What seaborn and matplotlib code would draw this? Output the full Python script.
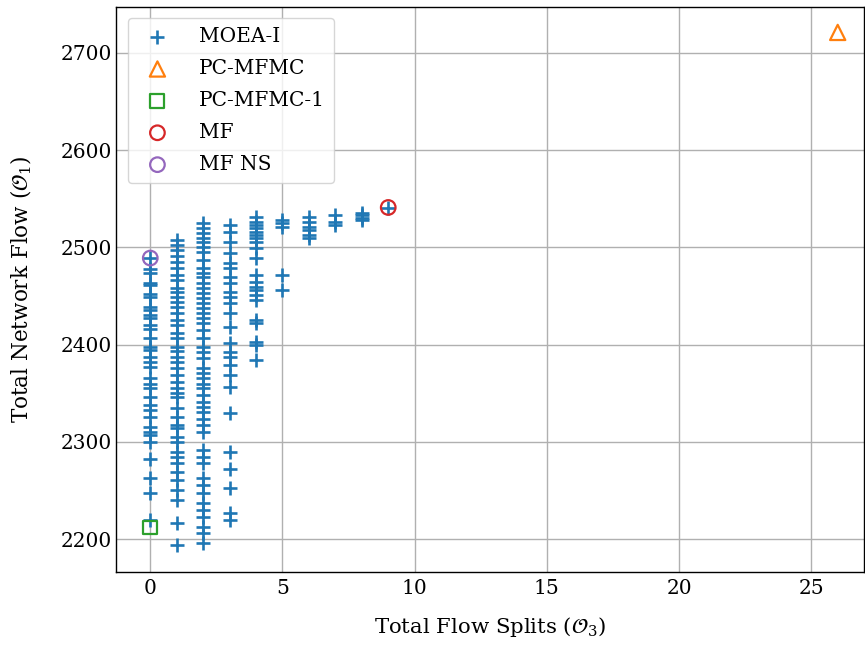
import matplotlib
matplotlib.use("Agg")
import matplotlib.pyplot as plt
import seaborn as sns
import numpy as np
import pandas as pd

# MOEA-I solutions: values per flow-split count
moea_x0 = [2478, 2474, 2463, 2461, 2452, 2449, 2439, 2436, 2430, 2427, 2420, 2416, 2407,
           2398, 2394, 2387, 2382, 2377, 2366, 2360, 2355, 2346, 2338, 2333, 2326, 2315,
           2310, 2307, 2300, 2282, 2263, 2247, 2220, 2489]
moea_x1 = [2508, 2502, 2497, 2491, 2485, 2479, 2472, 2466, 2458, 2454, 2449, 2444, 2439,
           2433, 2425, 2420, 2412, 2407, 2398, 2393, 2387, 2382, 2376, 2369, 2362, 2355,
           2350, 2346, 2335, 2326, 2317, 2314, 2305, 2300, 2290, 2284, 2278, 2269, 2261,
           2250, 2240, 2217, 2194]
moea_x2 = [2525, 2520, 2515, 2510, 2506, 2500, 2495, 2487, 2479, 2474, 2469, 2463, 2458,
           2453, 2448, 2443, 2438, 2433, 2427, 2422, 2415, 2407, 2398, 2392, 2386, 2376,
           2371, 2366, 2360, 2355, 2348, 2341, 2336, 2331, 2324, 2317, 2310, 2292, 2284,
           2278, 2263, 2256, 2247, 2237, 2230, 2223, 2212, 2206, 2196]
moea_x3 = [2523, 2516, 2505, 2494, 2484, 2479, 2469, 2463, 2454, 2449, 2443, 2433, 2418,
           2402, 2392, 2387, 2379, 2369, 2356, 2330, 2290, 2272, 2253, 2227, 2220]
moea_x4 = [2531, 2526, 2523, 2520, 2516, 2513, 2510, 2506, 2499, 2489, 2472, 2464, 2459,
           2456, 2451, 2446, 2425, 2422, 2403, 2400, 2384]
moea_x5 = [2528, 2525, 2521, 2472, 2456]
moea_x6 = [2531, 2526, 2521, 2518, 2513, 2510]
moea_x7 = [2533, 2526, 2523]
moea_x8 = [2535, 2533, 2530, 2528]
moea_x9 = [2540]
moea_cols = [moea_x0, moea_x1, moea_x2, moea_x3, moea_x4, moea_x5, moea_x6, moea_x7,
             moea_x8, moea_x9]

pcmfmc_x, pcmfmc_y = [26], [2721]
pcmfmc1_x, pcmfmc1_y = [0], [2212]
mf_x, mf_y = [9], [2541]
mfns_x, mfns_y = [0], [2489]

moea = pd.DataFrame({
    "splits": np.concatenate([[i] * len(c) for i, c in enumerate(moea_cols)]),
    "flow": np.concatenate(moea_cols),
})

sns.set_style("ticks")
plt.rcParams["font.family"] = ["DejaVu Serif"]
plt.rcParams["mathtext.fontset"] = "dejavuserif"
plt.rcParams["text.color"] = "black"
plt.rcParams["axes.labelcolor"] = "black"
plt.rcParams["xtick.color"] = "black"
plt.rcParams["ytick.color"] = "black"

fig = plt.figure(figsize=(8.65, 6.48), dpi=100)
ax = fig.add_axes([0.134, 0.117, 0.865, 0.872])

blue, orange, green, red, purple = "#1f77b4", "#ff7f0e", "#2ca02c", "#d62728", "#9467bd"

sns.scatterplot(data=moea, x="splits", y="flow", marker="+", s=110, color=blue,
                linewidth=1.9, label="MOEA-I", ax=ax, zorder=3)
sns.scatterplot(x=pcmfmc_x, y=pcmfmc_y, marker="^", s=120, color=orange, facecolor="none",
                edgecolor=orange, linewidth=1.6, label="PC-MFMC", ax=ax, zorder=4)
sns.scatterplot(x=pcmfmc1_x, y=pcmfmc1_y, marker="s", s=100, color=green, facecolor="none",
                edgecolor=green, linewidth=1.6, label="PC-MFMC-1", ax=ax, zorder=4)
sns.scatterplot(x=mf_x, y=mf_y, marker="o", s=110, color=red, facecolor="none",
                edgecolor=red, linewidth=1.6, label="MF", ax=ax, zorder=4)
sns.scatterplot(x=mfns_x, y=mfns_y, marker="o", s=110, color=purple, facecolor="none",
                edgecolor=purple, linewidth=1.6, label="MF NS", ax=ax, zorder=4)

ax.set_xlim(-1.3, 27.0)
ax.set_ylim(2166, 2747)
ax.set_xticks([0, 5, 10, 15, 20, 25])
ax.set_yticks([2200, 2300, 2400, 2500, 2600, 2700])
ax.grid(True, color="#b0b0b0", linewidth=1.0)
ax.set_axisbelow(True)
for sp in ax.spines.values():
    sp.set_color("black")
    sp.set_linewidth(1.0)
ax.tick_params(labelsize=14.5, length=0, color="black", labelcolor="black")
ax.tick_params(axis="x", pad=5)
ax.tick_params(axis="y", pad=3)
ax.set_xlabel(r"Total Flow Splits ($\mathcal{O}_3$)", fontsize=15.3, labelpad=12)
ax.set_ylabel(r"Total Network Flow ($\mathcal{O}_1$)", fontsize=15.5, labelpad=19)

ax.legend(loc="upper left", fontsize=14.5, frameon=True, framealpha=0.8, labelspacing=0.64,
          handletextpad=1.05, borderpad=0.45, bbox_to_anchor=(0.003, 0.998))

fig.savefig("out.png", dpi=100)
